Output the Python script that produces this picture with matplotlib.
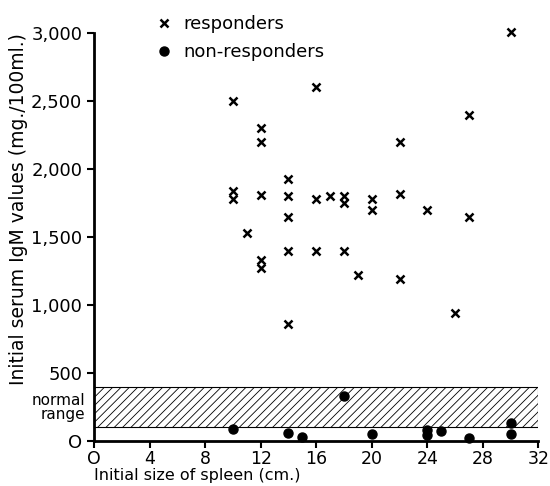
import numpy as np
import matplotlib
matplotlib.use('Agg')
import matplotlib.pyplot as plt

# responders (x markers)
resp_size = [10, 10, 10, 11, 12, 12, 12, 12, 12, 14, 14, 14, 14, 14,
             16, 16, 16, 17, 18, 18, 18, 19, 20, 20, 22, 22, 22, 24, 26, 27, 27, 30]
resp_igm = [2500, 1840, 1780, 1530, 2300, 2200, 1810, 1330, 1270, 1930, 1800, 1650, 1400, 860,
            2600, 1780, 1400, 1800, 1800, 1750, 1400, 1220, 1780, 1700, 2200, 1820, 1190, 1700, 940, 2400, 1650, 3010]

# non-responders (dots)
non_size = [10, 14, 15, 18, 20, 24, 24, 25, 27, 30, 30]
non_igm = [90, 60, 30, 330, 50, 80, 45, 70, 25, 135, 50]

normal_low, normal_high = 100, 400

x_ticks = [0, 4, 8, 12, 16, 20, 24, 28, 32]
x_labels = ['O', '4', '8', '12', '16', '20', '24', '28', '32']
y_ticks = [0, 500, 1000, 1500, 2000, 2500, 3000]
y_labels = ['O', '500', '1,000', '1,500', '2,000', '2,500', '3,000']

plt.rcParams['hatch.linewidth'] = 0.6

fig = plt.figure(figsize=(5.5, 4.86), dpi=100)
ax = fig.add_axes([0.171, 0.0926, 0.808, 0.8394])

# normal range band
ax.fill_between([0, 32], normal_low, normal_high, facecolor='white',
                edgecolor='black', hatch='////', linewidth=0.8)

ax.plot(resp_size, resp_igm, linestyle='none', marker='x', color='black',
        markersize=6, markeredgewidth=1.8, label='responders', clip_on=False)
ax.plot(non_size, non_igm, linestyle='none', marker='o', color='black',
        markersize=6.5, label='non-responders', clip_on=False)

ax.set_xlim(0, 32)
ax.set_ylim(0, 3000)
ax.set_xticks(x_ticks)
ax.set_xticklabels(x_labels, fontsize=12.5)
ax.set_yticks(y_ticks)
ax.set_yticklabels(y_labels, fontsize=13)
ax.tick_params(direction='out', length=5, width=1.5)
ax.tick_params(axis='x', pad=1.5)

for side in ['top', 'right']:
    ax.spines[side].set_visible(False)
for side in ['left', 'bottom']:
    ax.spines[side].set_linewidth(2)

ax.set_xlabel('Initial size of spleen (cm.)', fontsize=11.5, loc='left', labelpad=0)
ax.set_ylabel('Initial serum IgM values (mg./100ml.)', fontsize=13.5, loc='top', labelpad=2)

ax.text(-0.6, 245, 'normal\nrange', fontsize=11, ha='right', va='center',
        linespacing=0.95)

ax.legend(loc='upper left', bbox_to_anchor=(0.258, 0.995), bbox_transform=fig.transFigure,
          frameon=False, handlelength=1, handletextpad=0.6, labelspacing=0.55,
          borderpad=0.2, fontsize=13)

fig.savefig('out.png', dpi=100)
